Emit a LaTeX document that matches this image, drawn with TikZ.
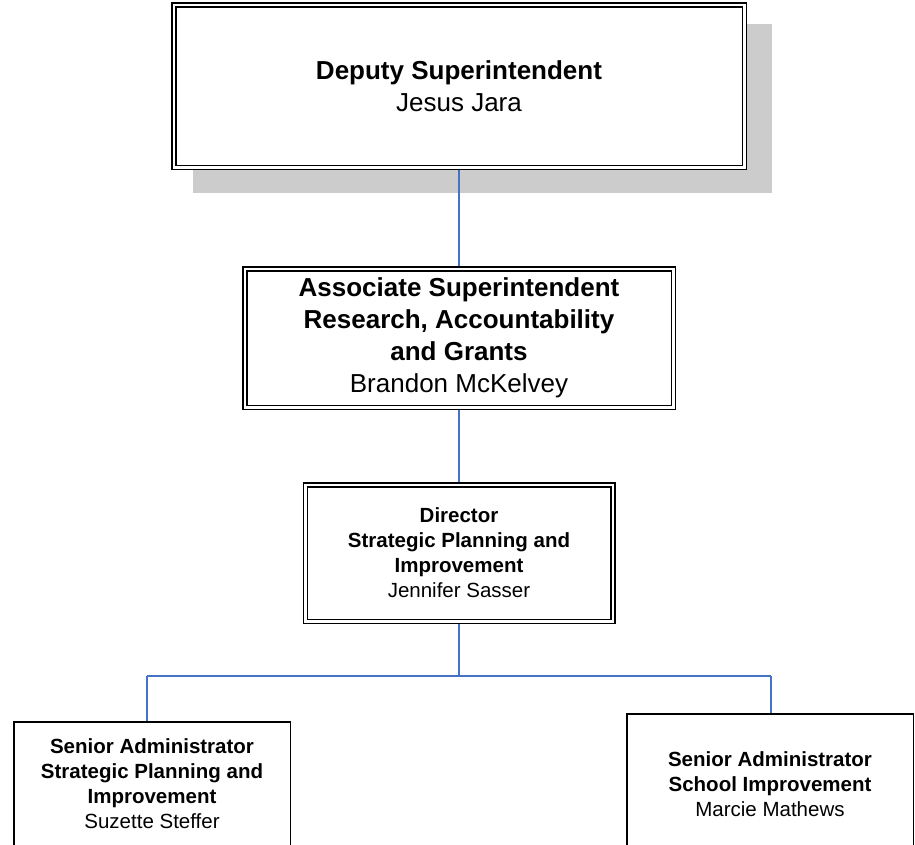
\documentclass[tikz,border=0pt]{standalone}
\usepackage{fontspec}
\setmainfont{Liberation Sans}
\usetikzlibrary{backgrounds}
\definecolor{linkblue}{RGB}{68,114,196}
\definecolor{shadowgray}{RGB}{204,204,204}
\begin{document}
\begin{tikzpicture}[x=1pt,y=-1pt,
  dbox/.style={draw=black, line width=1.5pt, double=white, double distance=2.5pt,
    fill=white, align=center, inner sep=0pt},
  sbox/.style={draw=black, line width=1.5pt, fill=white, align=center, inner sep=0pt},
  link/.style={draw=linkblue, line width=1.2pt},
  bigtext/.style={font=\fontsize{26}{32}\selectfont},
  smalltext/.style={font=\fontsize{20.5}{25}\selectfont}]
\clip (0,0) rectangle (915,844);

\node[dbox, bigtext, minimum width=570.5pt, minimum height=162.5pt] (deputy) at (459,86)
  {\textbf{Deputy Superintendent}\\Jesus Jara};
\node[dbox, bigtext, minimum width=428.5pt, minimum height=138.5pt] (assoc) at (459,338)
  {\textbf{Associate Superintendent}\\\textbf{Research, Accountability}\\\textbf{and Grants}\\Brandon McKelvey};
\node[dbox, smalltext, minimum width=307.5pt, minimum height=136.5pt] (director) at (459,553)
  {\textbf{Director}\\\textbf{Strategic Planning and}\\\textbf{Improvement}\\Jennifer Sasser};
\node[sbox, smalltext, minimum width=276.5pt, minimum height=124pt] (left) at (152,784)
  {\textbf{Senior Administrator}\\\textbf{Strategic Planning and}\\\textbf{Improvement}\\Suzette Steffer};
\node[sbox, smalltext, minimum width=286.5pt, minimum height=140pt] (right) at (770,784)
  {\textbf{Senior Administrator}\\\textbf{School Improvement}\\Marcie Mathews};

\coordinate (bus) at (459,676);
\coordinate (busleft) at (147,676);
\coordinate (busright) at (771,676);

\begin{pgfonlayer}{background}
  \fill[shadowgray] ([shift={(20,20)}]deputy.north west) rectangle ([shift={(26.5,25)}]deputy.south east);
  \draw[link] (deputy) -- (assoc);
  \draw[link] (assoc) -- (director);
  \draw[link] (director) -- (bus);
  \draw[link] (busleft) -- (busright);
  \draw[link] (busleft) -- (busleft |- left.north);
  \draw[link] (busright) -- (busright |- right.north);
\end{pgfonlayer}
\end{tikzpicture}
\end{document}
